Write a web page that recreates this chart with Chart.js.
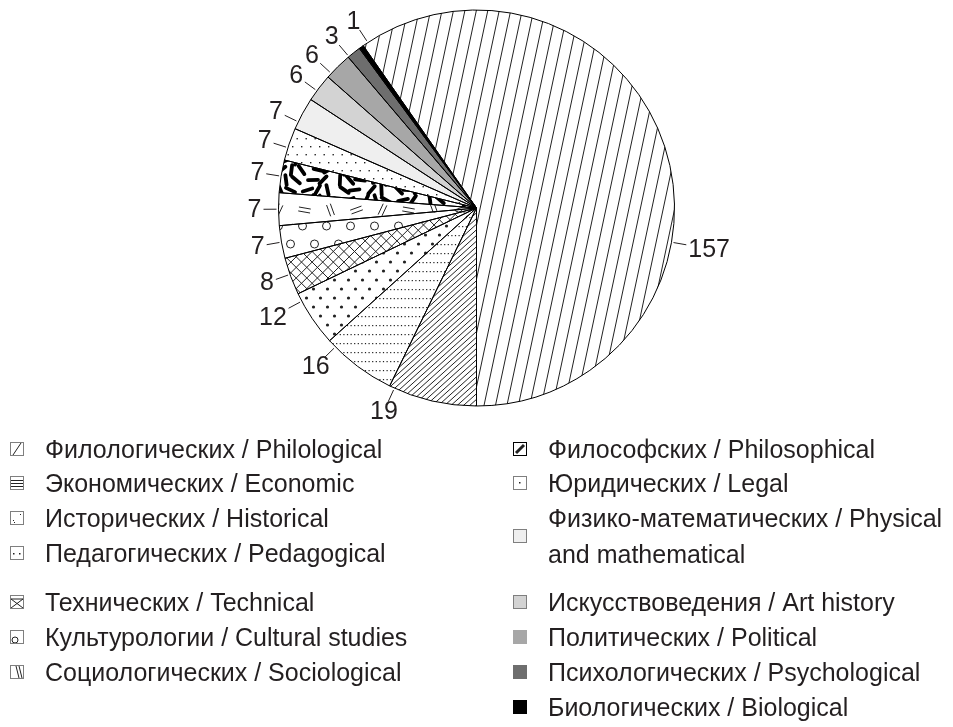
<!DOCTYPE html>
<html>
<head>
<meta charset="utf-8">
<script src="https://cdn.jsdelivr.net/npm/chart.js"></script>
<style>
  body { margin: 0; background: #fff; }
  #wrap { position: relative; width: 953px; height: 727px; overflow: hidden;
          font-family: "Liberation Sans", Arial, sans-serif; color: #231f20; }
  #pie { position: absolute; left: 0; top: 0; }
  .item { position: absolute; font-size: 25px; line-height: 36px; white-space: nowrap; }
  .item canvas { position: absolute; left: 0; }
  .item span { position: absolute; }
</style>
</head>
<body>
<div id="wrap">
  <canvas id="pie" width="953" height="440"></canvas>
  <div id="legend"></div>
</div>
<script>
// data
const categories = [
  "Филологических / Philological",
  "Экономических / Economic",
  "Исторических / Historical",
  "Педагогических / Pedagogical",
  "Технических / Technical",
  "Культурологии / Cultural studies",
  "Социологических / Sociological",
  "Философских / Philosophical",
  "Юридических / Legal",
  "Физико-математических / Physical<br>and mathematical",
  "Искусствоведения / Art history",
  "Политических / Political",
  "Психологических / Psychological",
  "Биологических / Biological"
];
const counts = [157, 19, 16, 12, 8, 7, 7, 7, 7, 7, 6, 6, 3, 1];

// styling
const fills = ["steep", "diag", "hdots", "dots", "cross", "rings", "pairs",
               "confetti", "specks", "#efefef", "#d3d3d3", "#a7a7a7", "#6e6e6e", "#000000"];
// label nudges in degrees (to spread labels like the original)
const labelShift = [27.4, 11.5, 8.5, 5.8, 0.6, 0, 0, 0, -1.1, -2.6, -1, -2.7, -1.8, 2.3];
const ink = "#222";

function lines(ctx, cx, cy, R, deg, gap, width) {
  const t = deg * Math.PI / 180, dx = Math.cos(t), dy = Math.sin(t);
  ctx.strokeStyle = ink; ctx.lineWidth = width;
  ctx.beginPath();
  for (let k = -R; k <= R; k += gap) {
    const px = cx - dy * k, py = cy + dx * k;
    ctx.moveTo(px - dx * R, py - dy * R);
    ctx.lineTo(px + dx * R, py + dy * R);
  }
  ctx.stroke();
}

function grid(cx, cy, R, sx, sy, stagger, fn) {
  let row = 0, n = 0;
  for (let y = cy - R; y <= cy + R; y += sy, row++) {
    const off = row % 2 ? stagger : 0;
    for (let x = cx - R + off; x <= cx + R; x += sx) fn(x, y, n++);
  }
}

function drawPattern(ctx, kind, cx, cy, R) {
  ctx.fillStyle = ink;
  switch (kind) {
    case "steep": lines(ctx, cx, cy, R, -78, 11.2, 1); break;
    case "diag": lines(ctx, cx, cy, R, -42, 4.2, 1); break;
    case "hdots":
      grid(cx, cy, R, 3.6, 9, 0, (x, y) => ctx.fillRect(x, y, 1.2, 1.2));
      break;
    case "dots":
      grid(cx, cy, R, 14, 9, 7, (x, y) => { ctx.beginPath(); ctx.arc(x, y, 1.6, 0, 7); ctx.fill(); });
      break;
    case "cross":
      lines(ctx, cx, cy, R, 45, 7.5, 1);
      lines(ctx, cx, cy, R, -45, 7.5, 1);
      break;
    case "rings":
      ctx.strokeStyle = ink; ctx.lineWidth = 1;
      grid(cx, cy, R, 24, 18, 12, (x, y) => { ctx.beginPath(); ctx.arc(x, y, 4, 0, 7); ctx.stroke(); });
      break;
    case "pairs":
      ctx.strokeStyle = ink; ctx.lineWidth = 1;
      grid(cx, cy, R, 26, 20, 13, (x, y, n) => {
        const t = [10, 70, 160, 115][n % 4] * Math.PI / 180;
        const dx = Math.cos(t) * 6, dy = Math.sin(t) * 6;
        const nx = -Math.sin(t) * 2, ny = Math.cos(t) * 2;
        ctx.beginPath();
        ctx.moveTo(x - dx + nx, y - dy + ny); ctx.lineTo(x + dx + nx, y + dy + ny);
        ctx.moveTo(x - dx - nx, y - dy - ny); ctx.lineTo(x + dx - nx, y + dy - ny);
        ctx.stroke();
      });
      break;
    case "confetti":
      ctx.strokeStyle = "#000"; ctx.lineWidth = 3.8; ctx.lineCap = "round";
      grid(cx, cy, R, 13, 10, 6.5, (x, y, n) => {
        const t = ((n * 137.5) % 180) * Math.PI / 180;
        const j = ((n * 53) % 7) - 3;
        const dx = Math.cos(t) * 5, dy = Math.sin(t) * 5;
        ctx.beginPath();
        ctx.moveTo(x + j - dx, y - dy); ctx.lineTo(x + j + dx, y + dy);
        ctx.stroke();
      });
      ctx.lineCap = "butt";
      break;
    case "specks":
      grid(cx, cy, R, 9, 8, 4.5, (x, y) => ctx.fillRect(x, y, 1.4, 1.4));
      break;
  }
}

// simplified swatches as the legend shows them
function drawSwatch(c, kind) {
  c.strokeStyle = ink; c.fillStyle = ink; c.lineWidth = 1;
  const seg = (x1, y1, x2, y2) => { c.beginPath(); c.moveTo(x1, y1); c.lineTo(x2, y2); c.stroke(); };
  switch (kind) {
    case "steep": seg(3, 13, 11, 1); break;
    case "diag": [4.5, 7.5, 10.5].forEach(y => seg(1, y, 13, y)); break;
    case "hdots": c.fillRect(3, 9, 1, 1); c.fillRect(10, 3, 1, 1); c.fillRect(4, 11, 1, 1); break;
    case "dots": c.fillRect(3, 7, 1.5, 1.5); c.fillRect(9, 7, 1.5, 1.5); break;
    case "cross": seg(1, 4, 13, 13); seg(13, 4, 1, 13); seg(1, 4, 13, 4); break;
    case "rings": c.beginPath(); c.arc(5, 10, 3, 0, 7); c.stroke(); break;
    case "pairs": seg(6, 1, 9, 13); seg(9, 1, 12, 13); break;
    case "confetti": c.lineWidth = 3; seg(3, 11, 11, 3); break;
    case "specks": c.fillRect(6, 6, 1.5, 1.5); break;
  }
}

function arcPath(ctx, p) {
  ctx.beginPath();
  ctx.moveTo(p.x, p.y);
  ctx.arc(p.x, p.y, p.outerRadius, p.startAngle, p.endAngle);
  ctx.closePath();
}

const piePatterns = {
  id: "piePatterns",
  afterDatasetsDraw(chart) {
    const ctx = chart.ctx;
    const arcs = chart.getDatasetMeta(0).data;
    const props = arcs.map(a => a.getProps(["x", "y", "startAngle", "endAngle", "outerRadius"], true));
    props.forEach((p, i) => {
      if (fills[i].startsWith("#")) return;
      ctx.save();
      arcPath(ctx, p); ctx.clip();
      drawPattern(ctx, fills[i], p.x, p.y, p.outerRadius);
      ctx.restore();
    });
    ctx.save();
    ctx.strokeStyle = "#000"; ctx.lineWidth = 1;
    props.forEach(p => { arcPath(ctx, p); ctx.stroke(); });
    // value labels with leader lines
    ctx.font = "25px 'Liberation Sans', Arial, sans-serif";
    ctx.fillStyle = "#231f20"; ctx.strokeStyle = "#231f20";
    ctx.textAlign = "center"; ctx.textBaseline = "middle";
    props.forEach((p, i) => {
      const mid = (p.startAngle + p.endAngle) / 2 + labelShift[i] * Math.PI / 180;
      const ux = Math.cos(mid), uy = Math.sin(mid), r = p.outerRadius;
      ctx.beginPath();
      ctx.moveTo(p.x + ux * (r + 2), p.y + uy * (r + 2));
      ctx.lineTo(p.x + ux * (r + 15), p.y + uy * (r + 15));
      ctx.stroke();
      const text = String(counts[i]);
      const w = ctx.measureText(text).width, h = 15;
      const d = Math.min(w / 2 / Math.max(Math.abs(ux), 1e-6), h / 2 / Math.max(Math.abs(uy), 1e-6));
      const ax = p.x + ux * (r + 17), ay = p.y + uy * (r + 17);
      ctx.fillText(text, ax + ux * d, ay + uy * d + 1);
    });
    ctx.restore();
  }
};

const total = counts.reduce((s, v) => s + v, 0);

new Chart(document.getElementById("pie"), {
  type: "pie",
  data: {
    labels: categories,
    datasets: [{
      data: counts,
      backgroundColor: fills.map(f => f.startsWith("#") ? f : "#ffffff"),
      borderWidth: 0
    }]
  },
  options: {
    responsive: false,
    animation: false,
    rotation: 180 - 360 * counts[0] / total,
    radius: 198,
    layout: { padding: { top: 0, bottom: 24 } },
    plugins: { legend: { display: false }, tooltip: { enabled: false } },
    events: []
  },
  plugins: [piePatterns]
});

// legend (two columns)
const legendSlots = [
  [10, 449], [10, 483], [10, 518], [10, 553], [10, 602], [10, 637], [10, 672],
  [513, 449], [513, 483], [513, 536], [513, 602], [513, 637], [513, 672], [513, 707]
];
const legend = document.getElementById("legend");
categories.forEach((name, i) => {
  const [x, cy] = legendSlots[i];
  const hgt = name.includes("<br>") ? 72 : 36;
  const item = document.createElement("div");
  item.className = "item";
  item.style.left = x + "px";
  item.style.top = (cy - hgt / 2) + "px";
  item.style.height = hgt + "px";
  item.style.width = "440px";
  const sw = document.createElement("canvas");
  sw.width = 14; sw.height = 14;
  sw.style.top = (hgt / 2 - 7) + "px";
  const c = sw.getContext("2d");
  const f = fills[i];
  c.fillStyle = f.startsWith("#") ? f : "#fff";
  c.fillRect(0, 0, 14, 14);
  if (!f.startsWith("#")) drawSwatch(c, f);
  if (i < 11) {
    c.strokeStyle = f === "confetti" ? "#000" : "#7f7f7f";
    c.lineWidth = 1; c.strokeRect(0.5, 0.5, 13, 13);
  }
  const span = document.createElement("span");
  span.innerHTML = name;
  span.style.left = "35px";
  span.style.top = "0px";
  item.appendChild(sw);
  item.appendChild(span);
  legend.appendChild(item);
});
</script>
</body>
</html>
